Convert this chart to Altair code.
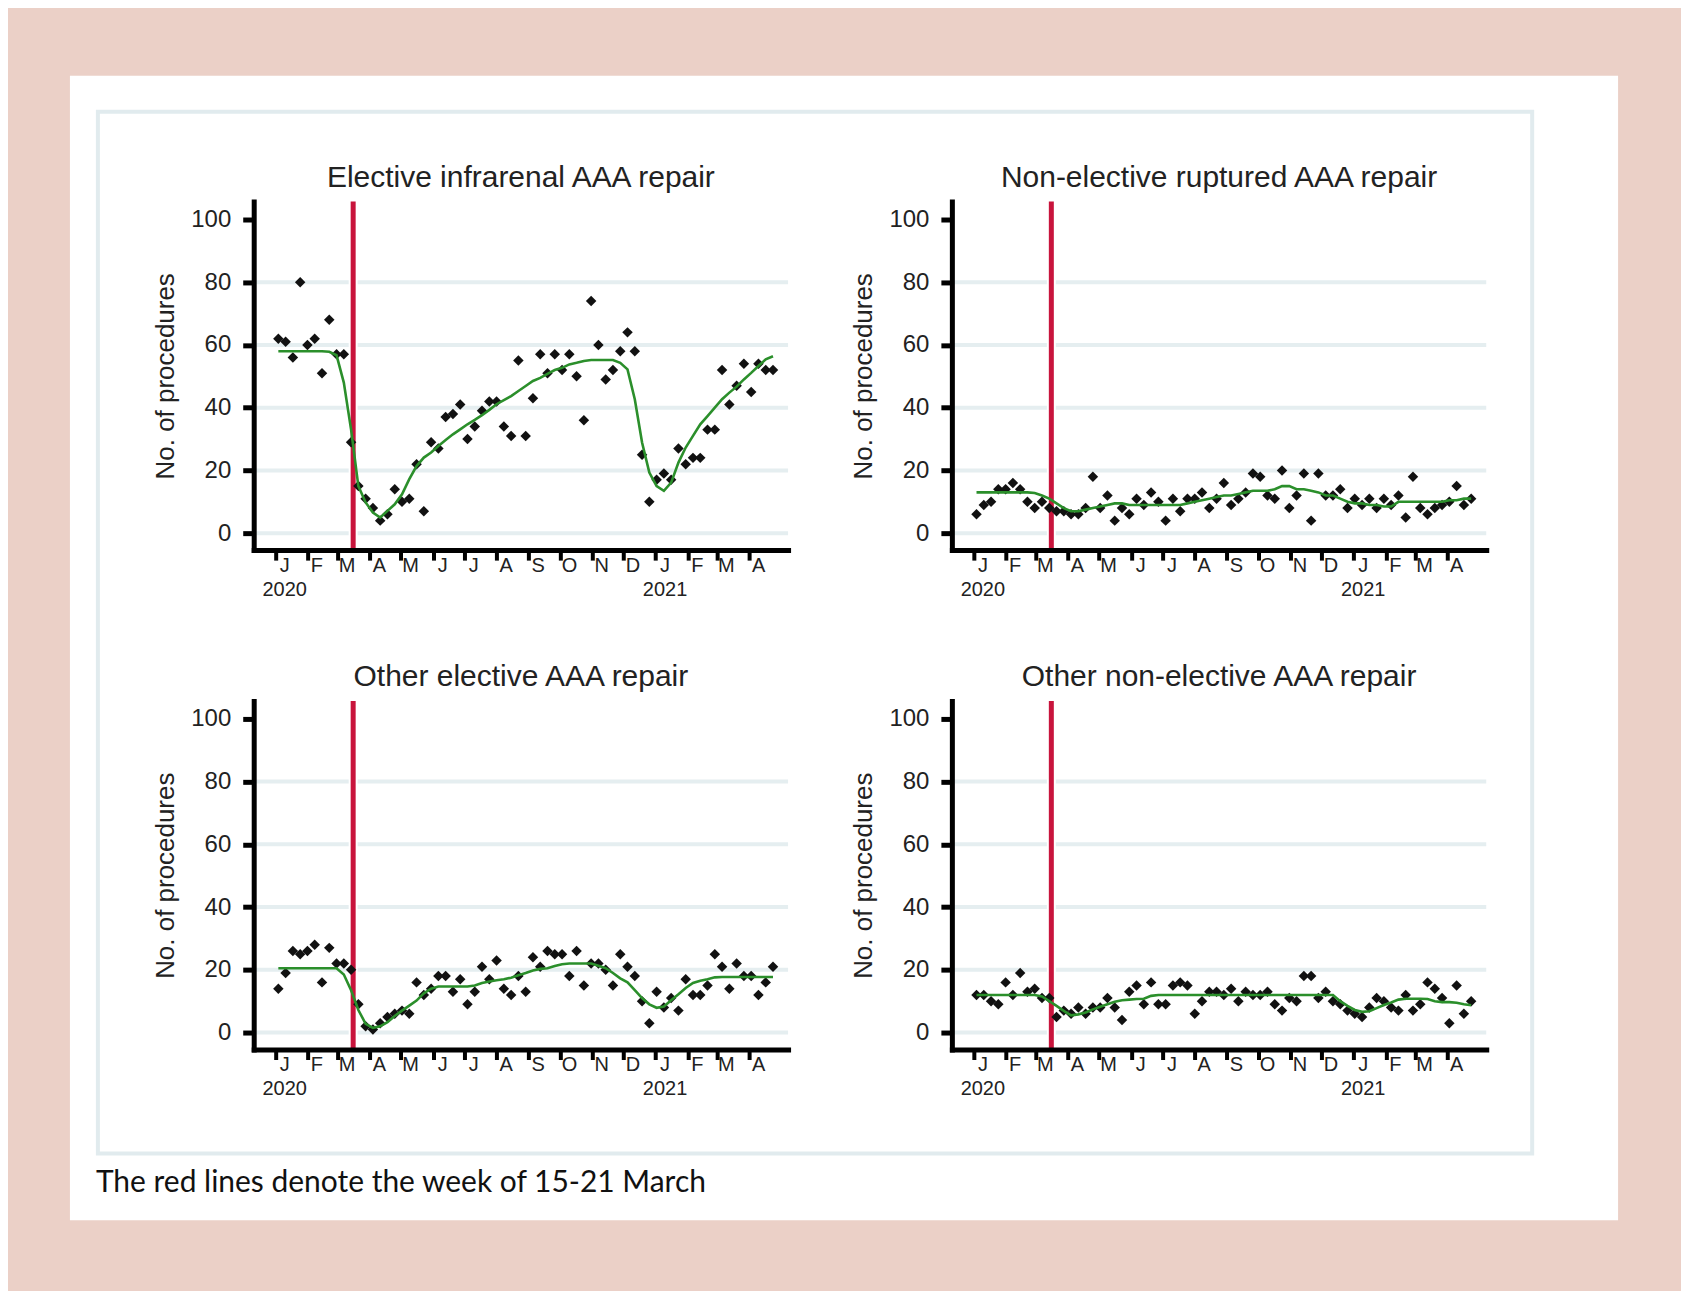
import json
import altair as alt
import pandas as pd

# ---------------- data ----------------
WEEKS = pd.date_range("2020-01-04", periods=69, freq="7D").strftime("%Y-%m-%dT00:00:00").tolist()

TITLES = [
    "Elective infrarenal AAA repair",
    "Non-elective ruptured AAA repair",
    "Other elective AAA repair",
    "Other non-elective AAA repair",
]

ELECTIVE_INFRA = [62, 61, 56, 80, 60, 62, 51, 68, 57, 57, 29, 15, 11, 8, 4, 6, 14, 10, 11, 22,
                  7, 29, 27, 37, 38, 41, 30, 34, 39, 42, 42, 34, 31, 55, 31, 43, 57, 51, 57, 52,
                  57, 50, 36, 74, 60, 49, 52, 58, 64, 58, 25, 10, 17, 19, 17, 27, 22, 24, 24, 33,
                  33, 52, 41, 47, 54, 45, 54, 52, 52]
ELECTIVE_INFRA_TREND = [58, 58, 58, 58, 58, 58, 58, 57.8, 56.7, 48, 33, 15, 9.8, 6.6, 5, 7.1, 9.2, 12.4, 17.2, 21.4,
                        24.1, 25.7, 27.8, 29.7, 31.5, 33.1, 34.7, 36.1, 37.6, 39.3, 41.1, 42.4, 43.7, 45.3, 46.9, 48.5, 49.5, 50.8, 52, 52.7,
                        53.8, 54.3, 54.9, 55.2, 55.2, 55.2, 55.2, 54.3, 52.2, 42.7, 28.9, 19.3, 15, 13.5, 16.1, 22.5, 27.3, 31, 34.7, 37.3,
                        40, 42.7, 44.8, 46.7, 49, 51.1, 53.3, 55.4, 56.4]

RUPTURED = [6, 9, 10, 14, 14, 16, 14, 10, 8, 10, 8, 7, 7, 6, 6, 8, 18, 8, 12, 4,
            8, 6, 11, 9, 13, 10, 4, 11, 7, 11, 11, 13, 8, 11, 16, 9, 11, 13, 19, 18,
            12, 11, 20, 8, 12, 19, 4, 19, 12, 12, 14, 8, 11, 9, 11, 8, 11, 9, 12, 5,
            18, 8, 6, 8, 9, 10, 15, 9, 11]
RUPTURED_TREND = [13, 13, 13, 13, 13, 13, 13, 13, 12.8, 12, 11, 9.5, 8, 7, 7, 7.5, 8, 8.5, 9, 9.5,
                  9.5, 9, 9, 9, 9, 9, 9, 9, 9, 9.5, 10, 10.5, 11, 11.5, 12, 12, 12.5, 13, 13.5, 13.5,
                  13.5, 14, 15, 15, 14, 14, 13.5, 13, 12, 12, 11, 10, 9.5, 9.5, 9, 9, 8.5, 8.5, 10, 10,
                  10, 10, 10, 10, 10, 10.5, 10.5, 11, 11]

OTHER_ELECTIVE = [14, 19, 26, 25, 26, 28, 16, 27, 22, 22, 20, 9, 2, 1, 3, 5, 6, 7, 6, 16,
                  12, 14, 18, 18, 13, 17, 9, 13, 21, 17, 23, 14, 12, 18, 13, 24, 21, 26, 25, 25,
                  18, 26, 15, 22, 22, 20, 15, 25, 21, 18, 10, 3, 13, 8, 11, 7, 17, 12, 12, 15,
                  25, 21, 14, 22, 18, 18, 12, 16, 21]
OTHER_ELECTIVE_TREND = [20.5, 20.5, 20.5, 20.5, 20.5, 20.5, 20.5, 20.5, 20.5, 18.5, 13.5, 7.2, 2.8, 1.5, 2, 3.3, 5.3, 7, 8.6, 10.2,
                        12.5, 14, 14.7, 14.7, 14.7, 14.7, 14.7, 15, 15.8, 16.3, 16.7, 17, 17.5, 18.3, 19, 19.8, 20.3, 20.5, 21.2, 21.8,
                        22, 22, 22, 22, 21.3, 20.5, 19, 17.3, 16, 13.5, 11, 9, 7.9, 8.3, 10.3, 12.2, 14.2, 15.8, 16.5, 17,
                        17.6, 17.7, 17.7, 17.7, 17.7, 17.7, 17.7, 17.7, 17.7]

OTHER_NONELECTIVE = [12, 12, 10, 9, 16, 12, 19, 13, 14, 11, 11, 5, 7, 6, 8, 6, 8, 8, 11, 8,
                     4, 13, 15, 9, 16, 9, 9, 15, 16, 15, 6, 10, 13, 13, 12, 14, 10, 13, 12, 12,
                     13, 9, 7, 11, 10, 18, 18, 11, 13, 10, 9, 7, 6, 5, 8, 11, 10, 8, 7, 12,
                     7, 9, 16, 14, 11, 3, 15, 6, 10]
OTHER_NONELECTIVE_TREND = [12, 12, 12, 12, 12, 12, 12, 12, 12, 11.5, 10, 8.5, 6.9, 5.5, 5.8, 6.4, 7.4, 8.2, 9, 9.8,
                           10.3, 10.5, 10.7, 10.8, 11.7, 12, 12, 12, 12, 12, 12, 12, 12, 12, 12, 12, 12, 12, 12, 12,
                           12, 12, 12, 12, 12, 12, 12, 12, 12, 12, 10, 8.5, 7.2, 6.6, 6.8, 7.8, 8.8, 9.6, 10.5, 10.8,
                           10.8, 10.8, 10.7, 10, 9.7, 9.7, 9.5, 9, 8.7]

SERIES = [
    (ELECTIVE_INFRA, ELECTIVE_INFRA_TREND),
    (RUPTURED, RUPTURED_TREND),
    (OTHER_ELECTIVE, OTHER_ELECTIVE_TREND),
    (OTHER_NONELECTIVE, OTHER_NONELECTIVE_TREND),
]

RED_LINE_DATE = ["2020-03-16T00:00:00"]
GRID_VALUES = [0, 20, 40, 60, 80]
Y_TICKS = [0, 20, 40, 60, 80, 100]
TICK_MONTHS = [(2020, m) for m in range(1, 13)] + [(2021, m) for m in range(1, 5)]
MONTH_LETTERS = ["J", "F", "M", "A", "M", "J", "J", "A", "S", "O", "N", "D"]
YEAR_LABELS = ["2020", "2021"]
Y_TITLE = "No. of procedures"
FOOTER = "The red lines denote the week of 15-21 March"

# ---------------- style ----------------
PINK = "#ebd0c7"
FRAME = "#e1ebee"
GRID = "#e5eef0"
RED = "#c8143c"
GREEN = "#2b8f2b"
INK = "#222222"
FONT = "Liberation Sans"

PW, PH = 535, 349

x_scale = alt.Scale(domain=[alt.DateTime(year=2019, month=12, date=11, hours=7),
                            alt.DateTime(year=2021, month=5, date=8, hours=12)])
y_scale = alt.Scale(domain=[-5.4, 105.7], nice=False, zero=False)

L = json.dumps(MONTH_LETTERS)
Y = json.dumps(YEAR_LABELS)
label_expr = (f"month(datum.value) == 0 ? [{L}[month(datum.value)], {Y}[year(datum.value) - 2020]]"
              f" : {L}[month(datum.value)]")

x_axis = alt.Axis(
    values=[alt.DateTime(year=y, month=m, date=1) for y, m in TICK_MONTHS],
    labelExpr=label_expr, title=None, grid=False,
    domainColor="black", domainWidth=5, domainCap="square",
    tickColor="black", tickWidth=4, tickSize=10,
    labelFont=FONT, labelFontSize=20, labelColor=INK, labelPadding=-5,
    labelOffset=9, labelLineHeight=24, labelOverlap=False, labelFlush=False,
    labelAlign="center", labelBaseline="top", zindex=1,
)
y_axis = alt.Axis(
    values=Y_TICKS, title=Y_TITLE, grid=False,
    titleFont=FONT, titleFontSize=26, titleFontWeight="normal", titleColor=INK, titlePadding=12,
    domainColor="black", domainWidth=5, domainCap="square",
    tickColor="black", tickWidth=5, tickSize=11,
    labelFont=FONT, labelFontSize=24, labelColor=INK, labelPadding=12,
    labelOverlap=False, labelFlush=False, zindex=1,
)


def panel(title, values, trend):
    df = pd.DataFrame({"date": WEEKS, "value": values, "trend": trend})
    base = alt.Chart(df)
    grid = alt.Chart(pd.DataFrame({"g": GRID_VALUES})).mark_rule(color=GRID, strokeWidth=4).encode(
        y=alt.Y("g:Q", scale=y_scale, axis=y_axis))
    red_df = pd.DataFrame({"date": RED_LINE_DATE})
    halo = alt.Chart(red_df).mark_rule(color="white", strokeWidth=9).encode(
        x=alt.X("date:T", scale=x_scale, axis=x_axis))
    red = alt.Chart(red_df).mark_rule(color=RED, strokeWidth=5).encode(
        x=alt.X("date:T", scale=x_scale, axis=x_axis))
    pts = base.mark_point(shape="diamond", filled=True, size=110, color="#111111", opacity=1).encode(
        x=alt.X("date:T", scale=x_scale, axis=x_axis),
        y=alt.Y("value:Q", scale=y_scale, axis=y_axis))
    line = base.mark_line(color=GREEN, strokeWidth=2.6).encode(
        x=alt.X("date:T", scale=x_scale, axis=x_axis),
        y=alt.Y("trend:Q", scale=y_scale, axis=y_axis))
    return alt.layer(grid, halo, red, pts, line).properties(
        width=PW, height=PH,
        title=alt.TitleParams(text=title, font=FONT, fontSize=30, fontWeight="normal", color=INK,
                              frame="group", anchor="middle", baseline="alphabetic", offset=14, dy=34),
    )


panels = [panel(t, v, tr) for t, (v, tr) in zip(TITLES, SERIES)]
grid_chart = alt.concat(*panels, columns=2, spacing={"row": 151, "column": 164}, bounds="flush")

# background: white sheet, light frame and footnote (drawn first, beneath the panels)
bg_df = pd.DataFrame({"t": [FOOTER]})
bg_base = alt.Chart(bg_df)
sheet = bg_base.mark_rect(fill="white").encode(
    x=alt.value(-184), x2=alt.value(1366), y=alt.value(-125), y2=alt.value(1021))
frame = bg_base.mark_rect(fillOpacity=0, stroke=FRAME, strokeWidth=4).encode(
    x=alt.value(-156), x2=alt.value(1280), y=alt.value(-89), y2=alt.value(954))
note = bg_base.mark_text(align="left", baseline="middle", font="Lato", fontSize=30, color="#111111").encode(
    x=alt.value(-158), y=alt.value(984), text="t:N")
bg = alt.layer(sheet, frame, note).properties(width=1, height=1)

chart = alt.vconcat(bg, grid_chart, spacing=0, bounds="flush").properties(
    background=PINK,
    padding={"left": 61, "top": 66, "right": 62, "bottom": 69},
).configure_view(stroke="transparent")

chart.save("out.html", embed_options={"renderer": "svg", "actions": False})
